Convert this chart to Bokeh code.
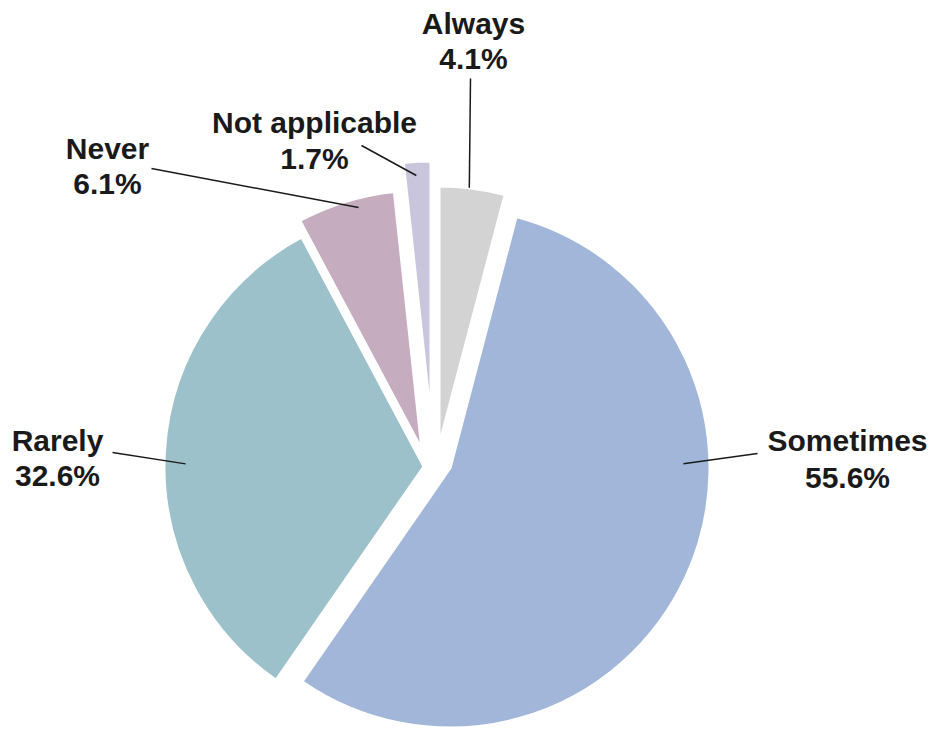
import numpy as np
from bokeh.plotting import figure
from bokeh.models import Range1d
from bokeh.core.properties import value
from bokeh.embed import file_html
from bokeh.resources import INLINE

# ---- data ----
categories = ["Always", "Sometimes", "Rarely", "Never", "Not applicable"]
percents = [4.1, 55.6, 32.6, 6.1, 1.7]
pct_labels = ["4.1%", "55.6%", "32.6%", "6.1%", "1.7%"]
colors = ["#D3D3D3", "#A2B6D9", "#9DC1CA", "#C5ADBF", "#C9C5DC"]

# ---- layout (pixel space, y measured downward from top) ----
W, H = 930, 729
CX, CY = 436, 462
R = 260
# per-slice displacement of the exploded slices (pixels, y down)
shift_x = np.array([2.5, 13.5, -12.5, -14.5, -5.5])
shift_y = np.array([-16.5, 5.5, 4.0, -12.5, -41.5])
# label centre x, baseline of name, baseline of percent, outer end of leader
label_x = [473, 847, 57, 107, 314]
name_base = [33, 450, 450, 158, 132]
pct_base = [68, 487, 485, 193, 168]
TEXT_SHIFT = 10
lead_end_x = [470, 757, 112, 151, 361]
lead_end_y = [78, 453, 452, 168, 145]
# where the leader touches its slice: position across slice (0..1), radius fraction
anchor_pos = [0.454, 0.371, 0.477, 0.61, 0.44]
anchor_r = [1.0, 0.898, 0.917, 0.964, 0.946]

vals = np.array(percents, dtype=float)
frac = vals / vals.sum()
cum_end = np.cumsum(frac)
cum_start = cum_end - frac

start_ang = np.pi / 2 - 2 * np.pi * cum_start
end_ang = np.pi / 2 - 2 * np.pi * cum_end

cx = CX + shift_x
cy = (H - CY) - shift_y

p = figure(width=W, height=H, x_range=Range1d(0, W), y_range=Range1d(0, H),
           output_backend="svg", toolbar_location=None, min_border=0)
p.axis.visible = False
p.grid.visible = False
p.outline_line_color = None
p.background_fill_color = "white"
p.border_fill_color = "white"

p.wedge(x=cx, y=cy, radius=R, start_angle=start_ang, end_angle=end_ang,
        direction="clock", fill_color=colors, line_color="white", line_width=3)

# leader lines
a_pos = np.array(anchor_pos)
a_ang = np.pi / 2 - 2 * np.pi * (cum_start + a_pos * frac)
ax = cx + np.array(anchor_r) * R * np.cos(a_ang)
ay = cy + np.array(anchor_r) * R * np.sin(a_ang)
p.segment(x0=ax, y0=ay, x1=lead_end_x, y1=[H - v for v in lead_end_y],
          line_color="#1a1a1a", line_width=1.5)

font = value("Liberation Sans")
p.text(x=label_x, y=[H - v + TEXT_SHIFT for v in name_base], text=categories,
       text_font=font, text_font_style="bold", text_font_size="30px",
       text_align="center", text_baseline="alphabetic", text_color="#1a1a1a")
p.text(x=label_x, y=[H - v + TEXT_SHIFT for v in pct_base], text=pct_labels,
       text_font=font, text_font_style="bold", text_font_size="30px",
       text_align="center", text_baseline="alphabetic", text_color="#1a1a1a")

open("out.html", "w").write(file_html(p, INLINE))
